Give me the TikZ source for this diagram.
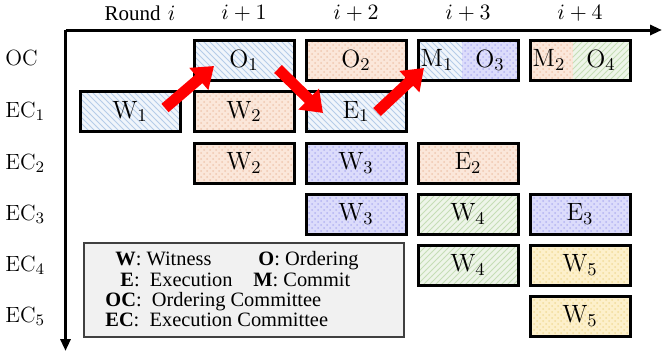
\documentclass[tikz,border=0pt]{standalone}
\usepackage{fontspec}
\newfontfamily\tms{Liberation Serif}
\usetikzlibrary{arrows.meta,patterns}
\definecolor{blueBg}{HTML}{F0F5FB}
\definecolor{blueLn}{HTML}{B5CCE8}
\definecolor{peachBg}{HTML}{FBE7DA}
\definecolor{peachLn}{HTML}{F0C8B0}
\definecolor{lavBg}{HTML}{DCDCFB}
\definecolor{lavLn}{HTML}{B4B4F2}
\definecolor{greenBg}{HTML}{EEF5E9}
\definecolor{greenLn}{HTML}{C6DEB6}
\definecolor{yelBg}{HTML}{FDF0CB}
\definecolor{yelLn}{HTML}{F2DC9C}
\definecolor{legBg}{HTML}{F1F1F1}
\tikzset{
  bx/.style={draw=black, line width=1.5pt, minimum width=50pt, minimum height=20pt, inner sep=0pt, font=\fontsize{12.5}{14}\selectfont},
  bluebox/.style={preaction={fill=blueBg}, pattern=north west lines, pattern color=blueLn},
  peachbox/.style={preaction={fill=peachBg}, pattern=crosshatch dots, pattern color=peachLn},
  lavbox/.style={preaction={fill=lavBg}, pattern=crosshatch dots, pattern color=lavLn},
  greenbox/.style={preaction={fill=greenBg}, pattern=north east lines, pattern color=greenLn},
  yelbox/.style={preaction={fill=yelBg}, pattern=crosshatch dots, pattern color=yelLn},
  rowlab/.style={anchor=west, inner sep=0pt, font=\fontsize{11}{13}\selectfont},
  hdr/.style={inner sep=0pt, font=\fontsize{11}{13}\selectfont},
  leg/.style={anchor=base west, inner sep=0pt, font=\tms\fontsize{10.2}{12}\selectfont},
  lbl/.style={inner sep=0pt, font=\fontsize{12.5}{14}\selectfont},
  fat/.style={draw=red, line width=5.5pt, -{Triangle[length=10pt,width=14pt]}},
}
\begin{document}
\begin{tikzpicture}[x=0.5pt,y=-0.5pt]
\useasboundingbox (0,0) rectangle (664,354);
% axes
\coordinate (org) at (65.5,30);
\coordinate (xend) at (662,30);
\coordinate (yend) at (65.5,351);
\draw[line width=1.5pt, -{Triangle[length=6pt,width=5pt]}] (org) -- (xend);
\draw[line width=1.5pt, -{Triangle[length=6pt,width=5pt]}] (org) -- (yend);
% headers
\node[hdr] (h0) at (140,13) {{\tms\fontsize{10.5}{12}\selectfont Round} $i$};
\node[hdr] (h1) at (244,13) {$i+1$};
\node[hdr] (h2) at (356,13) {$i+2$};
\node[hdr] (h3) at (468,13) {$i+3$};
\node[hdr] (h4) at (580,13) {$i+4$};
% row labels
\node[rowlab] (r0) at (5,58) {$\mathrm{OC}$};
\node[rowlab] (r1) at (5,111) {$\mathrm{EC}_1$};
\node[rowlab] (r2) at (5,163) {$\mathrm{EC}_2$};
\node[rowlab] (r3) at (5,214) {$\mathrm{EC}_3$};
\node[rowlab] (r4) at (5,265) {$\mathrm{EC}_4$};
\node[rowlab] (r5) at (5,316) {$\mathrm{EC}_5$};
% OC row
\node[bx, bluebox] (O1) at (244,60) {$\mathrm{O}_1$};
\node[bx, peachbox] (O2) at (356,60) {$\mathrm{O}_2$};
\path[bluebox] (418,40) rectangle (462,80);
\path[lavbox] (462,40) rectangle (518,80);
\node[bx] (MO1) at (468,60) {};
\node[lbl] (M1) at (437,60) {$\mathrm{M}_1$};
\node[lbl] (O3) at (490,60) {$\mathrm{O}_3$};
\path[peachbox] (530,40) rectangle (573,80);
\path[greenbox] (573,40) rectangle (630,80);
\node[bx] (MO2) at (580,60) {};
\node[lbl] (M2) at (549,60) {$\mathrm{M}_2$};
\node[lbl] (O4) at (601,60) {$\mathrm{O}_4$};
% EC1
\node[bx, bluebox] (W1) at (130,111.5) {$\mathrm{W}_1$};
\node[bx, peachbox] (W2a) at (244,111.5) {$\mathrm{W}_2$};
\node[bx, bluebox] (E1) at (356,111.5) {$\mathrm{E}_1$};
% EC2
\node[bx, peachbox] (W2b) at (244,163) {$\mathrm{W}_2$};
\node[bx, lavbox] (W3a) at (356,163) {$\mathrm{W}_3$};
\node[bx, peachbox] (E2) at (468,163) {$\mathrm{E}_2$};
% EC3
\node[bx, lavbox] (W3b) at (356,214) {$\mathrm{W}_3$};
\node[bx, greenbox] (W4a) at (468,214) {$\mathrm{W}_4$};
\node[bx, lavbox] (E3) at (580,214) {$\mathrm{E}_3$};
% EC4
\node[bx, greenbox] (W4b) at (468,265) {$\mathrm{W}_4$};
\node[bx, yelbox] (W5a) at (580,265) {$\mathrm{W}_5$};
% EC5
\node[bx, yelbox] (W5b) at (580,316) {$\mathrm{W}_5$};
% legend
\node[draw=black!75, fill=legBg, line width=0.6pt, minimum width=160pt, minimum height=47pt, inner sep=0pt] (legend) at (244,290) {};
\node[leg] (l1a) at (115,265) {\textbf{W}: Witness};
\node[leg] (l1b) at (258,265) {\textbf{O}: Ordering};
\node[leg] (l2a) at (120,286) {\textbf{E}:~ Execution};
\node[leg] (l2b) at (253,286) {\textbf{M}: Commit};
\node[leg] (l3) at (105,306) {\textbf{OC}:~ Ordering Committee};
\node[leg] (l4) at (105,326) {\textbf{EC}:~ Execution Committee};
% red arrows
\coordinate (a1s) at (165,108);
\coordinate (a1e) at (214,66);
\coordinate (a2s) at (278,69);
\coordinate (a2e) at (323,113);
\coordinate (a3s) at (377,112);
\coordinate (a3e) at (424,68);
\draw[fat] (a1s) -- (a1e);
\draw[fat] (a2s) -- (a2e);
\draw[fat] (a3s) -- (a3e);
\end{tikzpicture}
\end{document}
